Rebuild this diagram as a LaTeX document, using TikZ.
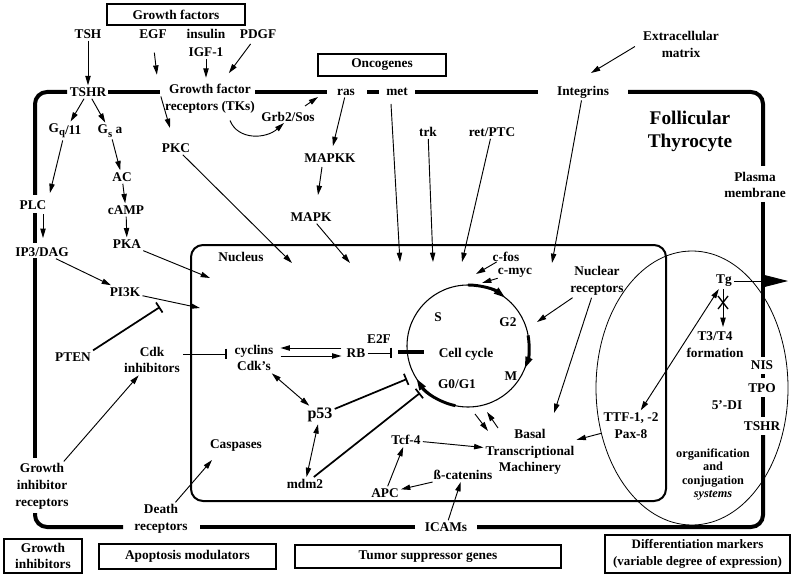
\documentclass[tikz,border=0pt]{standalone}
\usepackage{fontspec}
\setmainfont{Liberation Serif}
\usetikzlibrary{arrows.meta,calc}
\newcommand\lblfont{\fontsize{10}{12.6}\selectfont\bfseries}
\newcommand\bigfont{\fontsize{14.5}{17.3}\selectfont\bfseries}
\newcommand\pfont{\fontsize{12}{14}\selectfont\bfseries}
\newcommand\orgfont{\fontsize{9.2}{9.8}\selectfont\bfseries}
\begin{document}
\begin{tikzpicture}[x=0.75pt,y=-0.75pt,
  lbl/.style={font=\lblfont, inner sep=1.5pt, align=center},
  boxlbl/.style={lbl, draw, line width=0.9pt, inner sep=1pt},
  mem/.style={line width=3pt},
  arr/.style={line width=0.7pt, -{Triangle[length=7pt,width=4pt]}},
  darr/.style={line width=0.7pt, {Triangle[length=7pt,width=4pt]}-{Triangle[length=7pt,width=4pt]}},
  inh/.style={line width=0.7pt, -{Bar[width=8pt,line width=1.2pt]}},
  thickinh/.style={line width=1.3pt, -{Bar[width=9pt,line width=1.3pt]}},
  cyc/.style={line width=2.2pt, -{Triangle[length=9pt,width=5pt]}}
]
\useasboundingbox (0,0) rectangle (798,577);

% plasma membrane
\draw[mem, rounded corners=9pt] (35,195) -- (35,92) -- (67,92);
\draw[mem] (108,92) -- (160,92);
\draw[mem] (255,92) -- (327,92);
\draw[mem] (367,92) -- (379,92);
\draw[mem] (415,92) -- (538,92);
\draw[mem, rounded corners=9pt] (628,92) -- (763,92) -- (763,166);
\draw[mem] (763,202) -- (763,357);
\draw[mem] (763,374) -- (763,378);
\draw[mem] (763,397) -- (763,417);
\draw[mem, rounded corners=9pt] (763,435) -- (763,527) -- (477,527);
\draw[mem] (415,527) -- (200,527);
\draw[mem, rounded corners=9pt] (123,527) -- (35,527) -- (35,513);
\draw[mem] (35,213) -- (35,243);
\draw[mem] (35,258) -- (35,458);

% nucleus and differentiation ellipse
\draw[line width=1.5pt, rounded corners=9pt] (191,245) rectangle (666,501);
\draw[line width=0.6pt] (692,388) ellipse[x radius=96, y radius=137];

% cell cycle
\coordinate (ccc) at (468,346);
\draw[line width=0.8pt] (ccc) circle[radius=61];
\draw[cyc] ($(ccc)+(-90:61)$) arc[start angle=-90, end angle=-52, radius=61];
\draw[cyc] ($(ccc)+(-10:61)$) arc[start angle=-10, end angle=22, radius=61];
\draw[cyc] ($(ccc)+(102:61)$) arc[start angle=102, end angle=148, radius=61];
\draw[line width=2.5pt] (398,352) -- (424,352);

% boxes
\node[boxlbl, minimum width=103.5pt, minimum height=15.75pt] (gfbox) at (176,14.5) {Growth factors};
\node[boxlbl, minimum width=96pt, minimum height=16.5pt] (oncbox) at (382,65) {Oncogenes};
\node[boxlbl, minimum width=58.5pt, minimum height=25.5pt] (gibox) at (43,556) {Growth\\inhibitors};
\node[boxlbl, minimum width=132.75pt, minimum height=18.75pt] (apbox) at (187.5,556.5) {Apoptosis modulators};
\node[boxlbl, minimum width=199.5pt, minimum height=17.25pt] (tsbox) at (428,556.5) {Tumor suppressor genes};
\node[boxlbl, minimum width=138.75pt, minimum height=28.5pt, font=\fontsize{9.7}{12.6}\selectfont\bfseries] (dmbox) at (697.5,554) {Differentiation markers\\(variable degree of expression)};

% labels
\node[lbl] (TSH) at (88,34) {TSH};
\node[lbl] (EGF) at (153,34) {EGF};
\node[lbl] (IGF) at (206,43) {insulin\\[0.8pt]IGF-1};
\node[lbl] (PDGF) at (258,34) {PDGF};
\node[lbl] (TSHR) at (88,92) {TSHR};
\node[lbl] (GFR) at (210,98.5) {Growth factor\\receptors (TKs)};
\node[lbl] (ras) at (346,92) {ras};
\node[lbl] (met) at (397,92) {met};
\node[lbl] (integ) at (583,92) {Integrins};
\node[lbl] (ecm) at (681,44.5) {Extracellular\\matrix};
\node[lbl, font=\bigfont] (foll) at (690,131.5) {Follicular\\Thyrocyte};
\node[lbl] (pm) at (755,185) {Plasma\\membrane};
\node[lbl] (Gq) at (65,131) {G\raisebox{-2.5pt}{\footnotesize q}\raisebox{-1.5pt}{/11}};
\node[lbl] (Gs) at (110,131) {G\raisebox{-2.5pt}{\footnotesize s} a};
\node[lbl] (PKC) at (176,148) {PKC};
\node[lbl] (grb) at (288,117) {Grb2/Sos};
\node[lbl] (MAPKK) at (330,158) {MAPKK};
\node[lbl] (MAPK) at (311,217) {MAPK};
\node[lbl] (trk) at (428,132) {trk};
\node[lbl] (ret) at (492,132) {ret/PTC};
\node[lbl] (AC) at (122,177) {AC};
\node[lbl] (cAMP) at (126,210) {cAMP};
\node[lbl] (PKA) at (127,244) {PKA};
\node[lbl] (PLC) at (33,205) {PLC};
\node[lbl] (IP3) at (42,252) {IP3/DAG};
\node[lbl] (PI3K) at (125,292) {PI3K};
\node[lbl] (PTEN) at (73,357) {PTEN};
\node[lbl] (CdkI) at (152,360) {Cdk\\inhibitors};
\node[lbl] (nucl) at (241,257) {Nucleus};
\node[lbl] (cyc) at (254,358) {cyclins\\Cdk's};
\node[lbl] (RB) at (356,353) {RB};
\node[lbl] (E2F) at (379,339) {E2F};
\node[lbl] (S) at (438,317) {S};
\node[lbl] (G2) at (508,322) {G2};
\node[lbl] (cc) at (466,354) {Cell cycle};
\node[lbl] (M) at (511,376) {M};
\node[lbl] (G0) at (457,384) {G0/G1};
\node[lbl, inner sep=0.3pt] (cfos) at (506,256.5) {c-fos};
\node[lbl, inner sep=0.3pt] (cmyc) at (515,273) {c-myc};
\node[lbl] (nrec) at (597,281) {Nuclear\\receptors};
\node[lbl, font=\pfont] (p53) at (320,415) {p53};
\node[lbl] (mdm2) at (305,484) {mdm2};
\node[lbl] (casp) at (236,446) {Caspases};
\node[lbl] (tcf) at (406,440) {Tcf-4};
\node[lbl] (bcat) at (463,475) {ß-catenins};
\node[lbl] (APC) at (385,493) {APC};
\node[lbl] (basal) at (530,452) {Basal\\Transcriptional\\Machinery};
\node[lbl] (TTF) at (631,425.5) {TTF-1, -2\\Pax-8};
\node[lbl] (Tg) at (724,281) {Tg};
\node[lbl] (T3) at (715,345) {T3/T4\\formation};
\node[lbl] (NIS) at (762,365) {NIS};
\node[lbl] (TPO) at (762,388) {TPO};
\node[lbl] (DI) at (727,405) {5'-DI};
\node[lbl] (TSHR2) at (762,426) {TSHR};
\node[lbl, font=\orgfont] (org) at (713,474.5) {organification\\and\\conjugation\\\textit{systems}};
\node[lbl] (GIR) at (42,486.5) {Growth\\inhibitor\\receptors};
\node[lbl] (death) at (161,519) {Death\\receptors};
\node[lbl] (ICAM) at (446,527) {ICAMs};

% free ends inside nucleus
\coordinate (nPKA) at (210,278);
\coordinate (nPI3K) at (200,308);
\coordinate (nPKC) at (292,263);
\coordinate (nMAPK) at (350,263);
\coordinate (nmet) at (400,262);
\coordinate (ntrk) at (433,262);
\coordinate (nret) at (462,262);
\coordinate (nint) at (552,263);
\coordinate (e2fbar) at (392,353);
\coordinate (g1a) at (407,379);
\coordinate (g1b) at (420,393);
\coordinate (cfA) at (476,274);
\coordinate (cmA) at (482,283);
\coordinate (ccR) at (537,322);
\coordinate (tgout) at (788,281);

% connectors
\draw[arr] (TSH) -- (TSHR);
\draw[arr, shorten <=9pt] (EGF.south) -- ($(GFR.north west)+(-6,-7)$);
\draw[arr, shorten >=3pt] (IGF) -- (IGF |- GFR.north);
\draw[arr, shorten <=3pt, shorten >=8pt] (PDGF) -- (GFR);
\draw[arr] (TSHR) -- (Gq);
\draw[arr] (TSHR) -- (Gs);
\draw[arr, shorten >=4pt] (Gq) -- (PLC.north east);
\draw[arr] ($(PLC)+(10,9)$) -- ($(IP3)+(1,-14)$);
\draw[arr] (Gs) -- (AC);
\draw[arr] (AC) -- (cAMP);
\draw[arr] (cAMP) -- (PKA);
\draw[arr] (PKA) -- (nPKA);
\draw[arr] (IP3) -- (PI3K);
\draw[arr] (PI3K) -- (nPI3K);
\draw[thickinh] (PTEN.north east) -- ($(PI3K)+(35,15)$);
\draw[inh] ($(CdkI)+(31,-6)$) -- ($(cyc)+(-27,-4)$);
\draw[arr] (GIR) -- (CdkI);
\draw[arr] (death) -- ($(casp)+(-24,14)$);
\draw[arr] (ICAM) -- (bcat);
\draw[arr] (bcat) -- (APC);
\draw[arr] (APC) -- (tcf);
\draw[arr] (tcf) -- (basal);
\draw[arr] ($(RB.west)+(-3,-5)$) -- ($(cyc.east)+(5,-10)$);
\draw[arr] ($(cyc.east)+(5,-2)$) -- ($(RB.west)+(-3,3)$);
\draw[inh] (RB) -- (e2fbar);
\draw[darr] (cyc) -- (p53);
\draw[darr] (p53) -- (mdm2);
\draw[thickinh] (p53) -- (g1a);
\draw[thickinh] (mdm2) -- (g1b);
\draw[arr] (cfos) -- (cfA);
\draw[arr] (cmyc) -- (cmA);
\draw[arr] (nrec) -- (ccR);
\draw[arr] (nrec) -- ($(basal)+(24,-39)$);
\draw[arr] ($(cc)+(9,60)$) -- ($(basal)+(-42,-21)$);
\draw[arr] ($(basal)+(-32,-24)$) -- ($(cc)+(21,58)$);
\draw[arr] (TTF) -- (basal);
\draw[darr] (Tg) -- (TTF);
\draw[arr] ($(Tg)+(-1,8)$) -- ($(T3)+(8,-18)$);
\draw[line width=1pt] ($(Tg)+(-6,15)$) -- ($(Tg)+(4,28)$) ($(Tg)+(4,15)$) -- ($(Tg)+(-6,28)$);
\draw[line width=0.7pt, -{Triangle[length=18pt,width=9pt]}] (Tg.east) -- (tgout);
\draw[arr] (integ) -- (nint);
\draw[arr] ($(ecm.west)+(-6,2)$) -- ($(integ)+(8,-19)$);
\draw[arr] ($(met)+(-6,12)$) -- (nmet);
\draw[arr] (trk) -- (ntrk);
\draw[arr] (ret) -- (nret);
\draw[arr, shorten >=4pt] (ras) -- (MAPKK);
\draw[arr] ($(MAPKK)+(-8,9)$) -- ($(MAPK)+(7,-22)$);
\draw[arr] (MAPK) -- (nMAPK);
\draw[arr] (PKC) -- (nPKC);
\draw[arr] ($(GFR.west)+(-2,-2)$) -- ($(PKC)+(-6,-20)$);
\draw[arr] ($(GFR)+(20,22)$) .. controls ($(GFR)+(28,42)$) and ($(grb)+(-22,22)$) .. ($(grb)+(-4,6)$);
\draw[arr] ($(grb)+(17,-11)$) -- ($(ras)+(-28,5)$);
\end{tikzpicture}
\end{document}
